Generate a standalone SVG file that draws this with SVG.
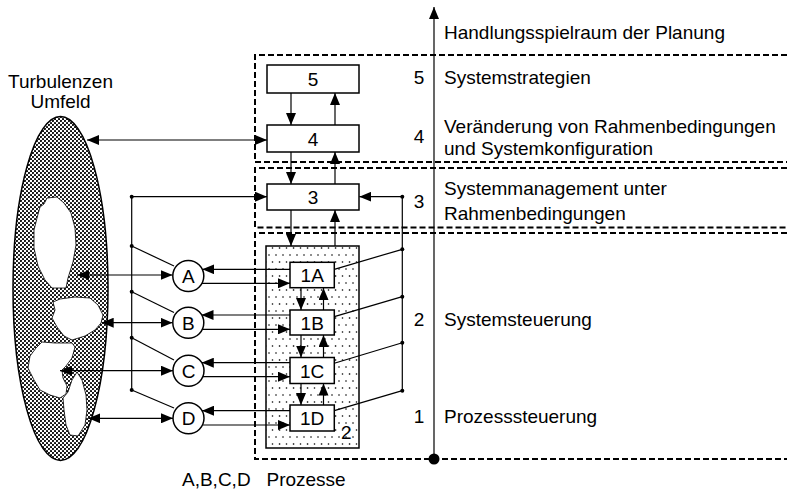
<svg xmlns="http://www.w3.org/2000/svg" width="787" height="495" viewBox="0 0 787 495">
<style>
text{font-family:"Liberation Sans",Arial,sans-serif;font-size:19px;fill:#000}
.c{text-anchor:middle}
.box{fill:#fff;stroke:#000;stroke-width:1.5}
.ln{stroke:#000;stroke-width:1.2;fill:none}
.ar{stroke:#000;stroke-width:1.2;fill:none;marker-end:url(#ah)}
.bi{stroke:#000;stroke-width:1.2;fill:none;marker-end:url(#ah);marker-start:url(#ah)}
.dash{stroke:#000;stroke-width:2;fill:none;stroke-dasharray:6 3}
.dot{fill:#000}
</style>
<defs>
<marker id="ah" markerUnits="userSpaceOnUse" markerWidth="12" markerHeight="10" refX="12" refY="5" orient="auto-start-reverse"><path d="M0,0 L12,5 L0,10 Z" fill="#000"/></marker>
<pattern id="dense" patternUnits="userSpaceOnUse" width="4" height="4"><rect width="4" height="4" fill="#fff"/><circle cx="1" cy="1" r="1.05" fill="#000"/><circle cx="3" cy="3" r="1.05" fill="#000"/></pattern>
<pattern id="sparse" patternUnits="userSpaceOnUse" width="14" height="14"><rect width="14" height="14" fill="#fff"/><circle cx="3" cy="3" r="0.8" fill="#000"/><circle cx="10" cy="3" r="0.8" fill="#000"/><circle cx="6.5" cy="10" r="0.8" fill="#000"/><circle cx="13.5" cy="10" r="0.8" fill="#000"/><circle cx="-0.5" cy="10" r="0.8" fill="#000"/></pattern>
</defs>

<g id="levels">
<path class="dash" d="M787,55 H255 V162 H787"/>
<path class="dash" d="M787,168 H255 V227.5 H787"/>
<path class="dash" d="M787,233 H255 V459 H787"/>
</g>

<g id="umfeld">
<ellipse cx="60.5" cy="288.5" rx="47.5" ry="172" fill="url(#dense)" stroke="#000" stroke-width="1.5"/>
<path fill="#fff" stroke="#000" stroke-width="0.8" d="M47,198 L57,197 L64,203 L71,213 L75,228 L76,245 L73,262 L68,278 L66,288 L52,288 L45,280 L38,266 L34,248 L34,230 L37,218 L40,207 L44,204 Z"/>
<path fill="#fff" stroke="#000" stroke-width="0.8" d="M53,302 L60,299 L75,297 L90,298 L98,305 L103,315 L101,323 L95,330 L85,336 L72,340 L64,336 L57,327 L52,318 L55,310 Z"/>
<path fill="#fff" stroke="#000" stroke-width="0.8" d="M42,342 L55,343 L72,343 L75,347 L72,358 L66,366 L62,370 L63,378 L67,386 L66,394 L60,398 L50,395 L40,390 L34,380 L28,368 L30,356 L36,348 Z"/>
<path fill="#fff" stroke="#000" stroke-width="0.8" d="M63,398 L68,392 L72,380 L77,372 L82,380 L86,395 L87,410 L85,425 L78,436 L70,435 L66,425 L64,410 Z"/>
<text class="c" x="60.5" y="88">Turbulenzen</text>
<text class="c" x="60.5" y="108">Umfeld</text>
</g>

<g id="area2">
<rect x="266" y="246" width="93" height="202" fill="url(#sparse)" stroke="#000" stroke-width="1.5"/>
<text x="341" y="439">2</text>
</g>

<g id="connectors">
<line class="ar" x1="434" y1="459" x2="434" y2="7"/>
<line class="bi" x1="87" y1="140" x2="267" y2="140"/>
<line class="ar" x1="131.7" y1="196.7" x2="267" y2="196.7"/>
<line class="ln" x1="131.7" y1="196.7" x2="131.7" y2="390"/>
<line class="ln" x1="131.7" y1="246" x2="174" y2="266"/>
<line class="ln" x1="131.7" y1="291.7" x2="174" y2="312.5"/>
<line class="ln" x1="131.7" y1="337.7" x2="174" y2="360"/>
<line class="ln" x1="131.7" y1="390" x2="174" y2="408"/>
<line class="bi" x1="77" y1="275" x2="172.5" y2="275"/>
<line class="bi" x1="101.7" y1="322.7" x2="172.5" y2="322.7"/>
<line class="bi" x1="60" y1="370.7" x2="173" y2="370.7"/>
<line class="bi" x1="88.3" y1="418.3" x2="173" y2="418.3"/>
<line class="ar" x1="290" y1="269.3" x2="202.3" y2="269.3"/>
<line class="ar" x1="202" y1="283.3" x2="290" y2="283.3"/>
<line class="ar" x1="290" y1="315" x2="201.5" y2="315"/>
<line class="ar" x1="202" y1="329.3" x2="290" y2="329.3"/>
<line class="ar" x1="290" y1="362.7" x2="201.8" y2="362.7"/>
<line class="ar" x1="202.5" y1="376.7" x2="290" y2="376.7"/>
<line class="ar" x1="290" y1="410.7" x2="202" y2="410.7"/>
<line class="ar" x1="202.5" y1="425" x2="290" y2="425"/>
<line class="ar" x1="291" y1="93" x2="291" y2="125"/>
<line class="ar" x1="335" y1="125" x2="335" y2="93"/>
<line class="ar" x1="291" y1="152" x2="291" y2="184"/>
<line class="ar" x1="335" y1="184" x2="335" y2="152"/>
<line class="ar" x1="291" y1="210" x2="291" y2="246"/>
<line class="ar" x1="335" y1="246" x2="335" y2="210"/>
<line class="ar" x1="301" y1="288" x2="301" y2="310"/>
<line class="ar" x1="323.5" y1="310" x2="323.5" y2="288"/>
<line class="ar" x1="301" y1="335" x2="301" y2="357.5"/>
<line class="ar" x1="323.5" y1="357.5" x2="323.5" y2="335"/>
<line class="ar" x1="301" y1="383.5" x2="301" y2="405"/>
<line class="ar" x1="323.5" y1="405" x2="323.5" y2="383.5"/>
<line class="ln" x1="402.3" y1="196.7" x2="402.3" y2="390.7"/>
<line class="ar" x1="402.3" y1="196.7" x2="359.3" y2="196.7"/>
<line class="ln" x1="334.3" y1="269.3" x2="402.3" y2="249.3"/>
<line class="ln" x1="334.3" y1="316.7" x2="402.3" y2="296.7"/>
<line class="ln" x1="334.3" y1="363.3" x2="402.3" y2="342.7"/>
<line class="ln" x1="334.3" y1="410.7" x2="402.3" y2="390.7"/>
<circle class="dot" cx="131.7" cy="196.7" r="2"/>
<circle class="dot" cx="131.7" cy="246" r="2"/>
<circle class="dot" cx="131.7" cy="291.7" r="2"/>
<circle class="dot" cx="131.7" cy="337.7" r="2"/>
<circle class="dot" cx="131.7" cy="390" r="2"/>
<circle class="dot" cx="402.3" cy="196.7" r="2"/>
<circle class="dot" cx="402.3" cy="249.3" r="2"/>
<circle class="dot" cx="402.3" cy="296.7" r="2"/>
<circle class="dot" cx="402.3" cy="342.7" r="2"/>
<circle class="dot" cx="402.3" cy="390.7" r="2"/>
<circle class="dot" cx="434" cy="459" r="5.5"/>
</g>

<g id="n5"><rect class="box" x="267" y="65" width="92" height="28"/><text class="c" x="313" y="86">5</text></g>
<g id="n4"><rect class="box" x="267" y="125" width="92" height="27"/><text class="c" x="313" y="145.5">4</text></g>
<g id="n3"><rect class="box" x="267" y="184" width="92" height="26"/><text class="c" x="313" y="204">3</text></g>
<g id="n1A"><rect class="box" x="290" y="262.3" width="44.3" height="25.4"/><text class="c" x="312.2" y="282">1A</text></g>
<g id="n1B"><rect class="box" x="290" y="310" width="44.3" height="25"/><text class="c" x="312.2" y="329.5">1B</text></g>
<g id="n1C"><rect class="box" x="290" y="357.5" width="44.3" height="26"/><text class="c" x="312.2" y="377.5">1C</text></g>
<g id="n1D"><rect class="box" x="290" y="405" width="44.3" height="26"/><text class="c" x="312.2" y="425">1D</text></g>

<g id="pA"><circle class="box" cx="188.3" cy="276" r="15.5"/><text class="c" x="188.3" y="282.8">A</text></g>
<g id="pB"><circle class="box" cx="188.3" cy="322.7" r="15.5"/><text class="c" x="188.3" y="329.5">B</text></g>
<g id="pC"><circle class="box" cx="188.5" cy="370.7" r="15.5"/><text class="c" x="188.5" y="377.5">C</text></g>
<g id="pD"><circle class="box" cx="188.5" cy="418.3" r="15.5"/><text class="c" x="188.5" y="425.1">D</text></g>

<g id="labels">
<text x="444" y="39">Handlungsspielraum der Planung</text>
<text class="c" x="419" y="84">5</text>
<text x="444" y="84">Systemstrategien</text>
<text class="c" x="419" y="143">4</text>
<text x="444" y="132.5">Veränderung von Rahmenbedingungen</text>
<text x="444" y="155">und Systemkonfiguration</text>
<text class="c" x="419" y="208">3</text>
<text x="444" y="195">Systemmanagement unter</text>
<text x="444" y="220">Rahmenbedingungen</text>
<text class="c" x="419" y="326">2</text>
<text x="444" y="326">Systemsteuerung</text>
<text class="c" x="419" y="422.5">1</text>
<text x="444" y="422.5">Prozesssteuerung</text>
<text x="182" y="486" xml:space="preserve">A,B,C,D   Prozesse</text>
</g>
</svg>
